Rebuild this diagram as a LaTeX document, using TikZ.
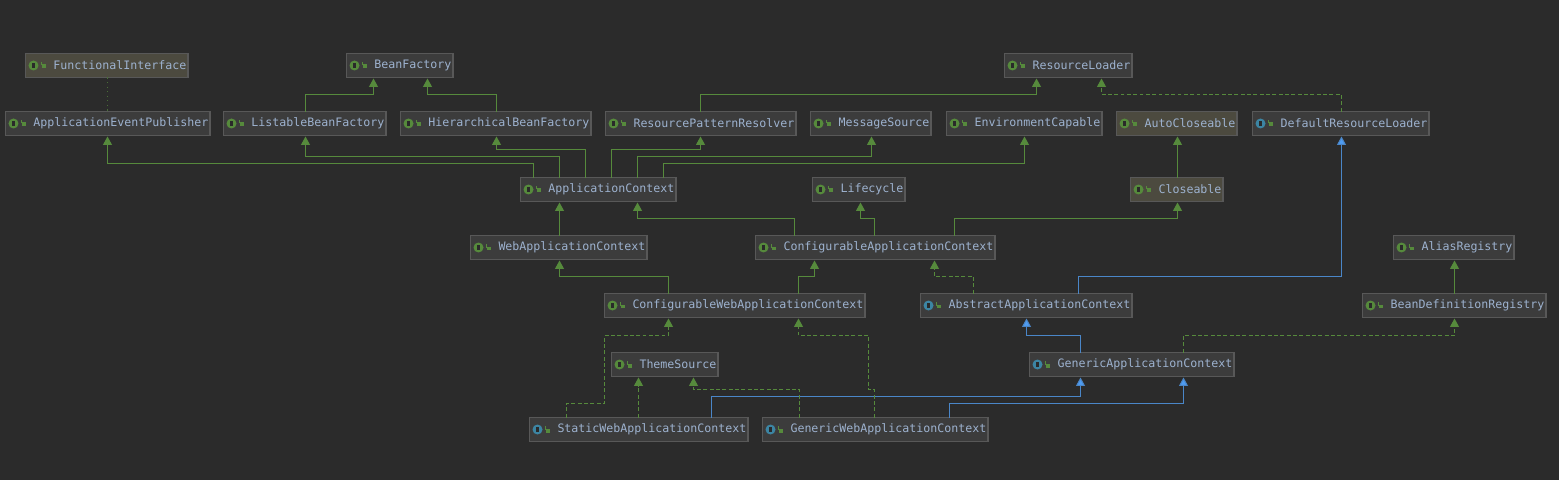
\documentclass[tikz,border=0pt]{standalone}
\usepackage{fontspec}
\setmonofont{DejaVu Sans Mono}
\usepackage{xcolor}
\usetikzlibrary{positioning, calc, arrows.meta}

\definecolor{BackDark}{HTML}{2B2B2B}
\definecolor{BoxFill}{HTML}{3C3C3C}
\definecolor{BoxWarm}{HTML}{4C4A3F}
\definecolor{BoxLine}{HTML}{585858}
\definecolor{NameBlue}{HTML}{9DB2CF}
\definecolor{IfaceGreen}{HTML}{568A3C}
\definecolor{ClassBlue}{HTML}{3C85A3}
\definecolor{ArrowBlue}{HTML}{4A86C8}
\definecolor{TipBlue}{HTML}{4F9CF2}

\begin{document}
\begin{tikzpicture}[
    x=0.02cm, y=-0.02cm,
    icon/.style={path picture={
        \fill[#1] ([xshift=0.16cm]path picture bounding box.west) circle (0.1cm);
        \fill[BoxFill!70!black] ([xshift=0.135cm,yshift=-0.05cm]path picture bounding box.west) rectangle ++(0.05cm,0.1cm);
        \fill[IfaceGreen] ([xshift=0.33cm,yshift=-0.06cm]path picture bounding box.west) rectangle ++(0.08cm,0.08cm);
        \draw[IfaceGreen, line width=0.25pt] ([xshift=0.32cm,yshift=0cm]path picture bounding box.west) -- ++(0,0.07cm);
    }},
    cmpt/.style={draw=BoxLine, fill=BoxFill, anchor=north west, line width=0.6pt, outer sep=0pt,
        inner xsep=0.03cm, inner ysep=0pt, minimum height=0.48cm, text=NameBlue,
        font=\ttfamily\fontsize{6.617}{8}\selectfont, execute at begin node={\hspace*{0.53cm}}},
    iface/.style={cmpt, icon=IfaceGreen},
    clazz/.style={cmpt, icon=ClassBlue},
    warm/.style={fill=BoxWarm},
    inherit/.style={draw=IfaceGreen, line width=0.6pt, -{Triangle[length=0.17cm, width=0.18cm, fill=IfaceGreen]}},
    realize/.style={inherit, dash pattern=on 2.2pt off 1.4pt},
    extend/.style={draw=ArrowBlue, line width=0.6pt, -{Triangle[length=0.17cm, width=0.18cm, fill=TipBlue]}}]

    \useasboundingbox[fill=BackDark] (0,0) rectangle (1559,480);

    %%% top row
    \node at (25.5,53.5)[iface, warm] (functional) {FunctionalInterface};
    \node at (346.5,53.5)[iface] (beanfactory) {BeanFactory};
    \node at (1004.5,53.5)[iface] (loader) {ResourceLoader};

    %%% second row
    \node at (5.5,111.5)[iface] (publisher) {ApplicationEventPublisher};
    \node at (223.5,111.5)[iface] (listable) {ListableBeanFactory};
    \node at (400.5,111.5)[iface] (hierarchical) {HierarchicalBeanFactory};
    \node at (605.5,111.5)[iface] (resolver) {ResourcePatternResolver};
    \node at (810.5,111.5)[iface] (message) {MessageSource};
    \node at (946.5,111.5)[iface] (environment) {EnvironmentCapable};
    \node at (1116.5,111.5)[iface, warm] (autocloseable) {AutoCloseable};
    \node at (1252.5,111.5)[clazz] (defaultloader) {DefaultResourceLoader};

    %%% third row
    \node at (520.5,177.5)[iface] (appcontext) {ApplicationContext};
    \node at (812.5,177.5)[iface] (lifecycle) {Lifecycle};
    \node at (1130.5,177.5)[iface, warm] (closeable) {Closeable};

    \node at (470.5,235.5)[iface] (webcontext) {WebApplicationContext};
    \node at (755.5,235.5)[iface] (confcontext) {ConfigurableApplicationContext};
    \node at (1393.5,235.5)[iface] (alias) {AliasRegistry};

    \node at (604.5,293.5)[iface] (confweb) {ConfigurableWebApplicationContext};
    \node at (920.5,293.5)[clazz] (abstract) {AbstractApplicationContext};
    \node at (1362.5,293.5)[iface] (definition) {BeanDefinitionRegistry};

    \node at (611.5,352.5)[iface] (theme) {ThemeSource};
    \node at (1029.5,352.5)[clazz] (generic) {GenericApplicationContext};

    \node at (529.5,417.5)[clazz] (staticweb) {StaticWebApplicationContext};
    \node at (762.5,417.5)[clazz] (genericweb) {GenericWebApplicationContext};

    %%% Relations between components
    \draw[IfaceGreen!70!BackDark, line width=0.6pt, dotted] ($(functional.south west)+(82,0)$) -- ($(publisher.north west)+(102,0)$);

    \draw[inherit] ($(appcontext.north west)+(13,0)$) -- ++(0,-14) -| ($(publisher.south west)+(102,1)$);
    \draw[inherit] ($(appcontext.north west)+(39,0)$) -- ++(0,-21) -| ($(listable.south west)+(82,1)$);
    \draw[inherit] ($(appcontext.north west)+(65,0)$) -- ++(0,-28) -| ($(hierarchical.south west)+(96,1)$);
    \draw[inherit] ($(appcontext.north west)+(91,0)$) -- ++(0,-28) -| ($(resolver.south west)+(95,1)$);
    \draw[inherit] ($(appcontext.north west)+(117,0)$) -- ++(0,-21) -| ($(message.south west)+(61,1)$);
    \draw[inherit] ($(appcontext.north west)+(143,0)$) -- ++(0,-14) -| ($(environment.south west)+(78,1)$);

    \draw[inherit] ($(listable.north west)+(82,0)$) -- ++(0,-17) -| ($(beanfactory.south west)+(27,1)$);
    \draw[inherit] ($(hierarchical.north west)+(96,0)$) -- ++(0,-17) -| ($(beanfactory.south west)+(81,1)$);
    \draw[inherit] ($(resolver.north west)+(95,0)$) -- ++(0,-17) -| ($(loader.south west)+(32,1)$);
    \draw[realize] ($(defaultloader.north west)+(89,0)$) -- ++(0,-17) -| ($(loader.south west)+(97,1)$);

    \draw[inherit] ($(closeable.north west)+(47,0)$) -- ($(autocloseable.south west)+(61,1)$);
    \draw[extend] ($(abstract.north west)+(158,0)$) -- ++(0,-17) -| ($(defaultloader.south west)+(89,1)$);

    \draw[inherit] ($(confcontext.north west)+(199,0)$) -- ++(0,-17) -| ($(closeable.south west)+(47,1)$);
    \draw[inherit] ($(confcontext.north west)+(119,0)$) -- ++(0,-17) -| ($(lifecycle.south west)+(48,1)$);
    \draw[inherit] ($(confcontext.north west)+(39,0)$) -- ++(0,-17) -| ($(appcontext.south west)+(117,1)$);
    \draw[inherit] ($(webcontext.north west)+(89,0)$) -- ($(appcontext.south west)+(39,1)$);

    \draw[inherit] ($(confweb.north west)+(64,0)$) -- ++(0,-17) -| ($(webcontext.south west)+(89,1)$);
    \draw[inherit] ($(confweb.north west)+(194,0)$) -- ++(0,-17) -| ($(confcontext.south west)+(59,1)$);
    \draw[realize] ($(abstract.north west)+(53,0)$) -- ++(0,-17) -| ($(confcontext.south west)+(179,1)$);

    \draw[extend] ($(generic.north west)+(51,0)$) -- ++(0,-17) -| ($(abstract.south west)+(106,1)$);
    \draw[inherit] ($(definition.north west)+(92,0)$) -- ($(alias.south west)+(61,1)$);
    \draw[realize] ($(generic.north west)+(154,0)$) -- ++(0,-17) -| ($(definition.south west)+(92,1)$);

    \draw[extend] ($(staticweb.north west)+(182,0)$) -- ++(0,-21) -| ($(generic.south west)+(51,1)$);
    \draw[extend] ($(genericweb.north west)+(187,0)$) -- ++(0,-14) -| ($(generic.south west)+(154,1)$);

    \draw[realize] ($(staticweb.north west)+(37,0)$) -- ++(0,-14) -- ++(38,0) -- ++(0,-68) -| ($(confweb.south west)+(64,1)$);
    \draw[realize] ($(genericweb.north west)+(112,0)$) -- ++(0,-28) -- ++(-6,0) -- ++(0,-54) -| ($(confweb.south west)+(194,1)$);
    \draw[realize] ($(staticweb.north west)+(109,0)$) -- ($(theme.south west)+(27,1)$);
    \draw[realize] ($(genericweb.north west)+(37,0)$) -- ++(0,-28) -| ($(theme.south west)+(82,1)$);

\end{tikzpicture}
\end{document}
